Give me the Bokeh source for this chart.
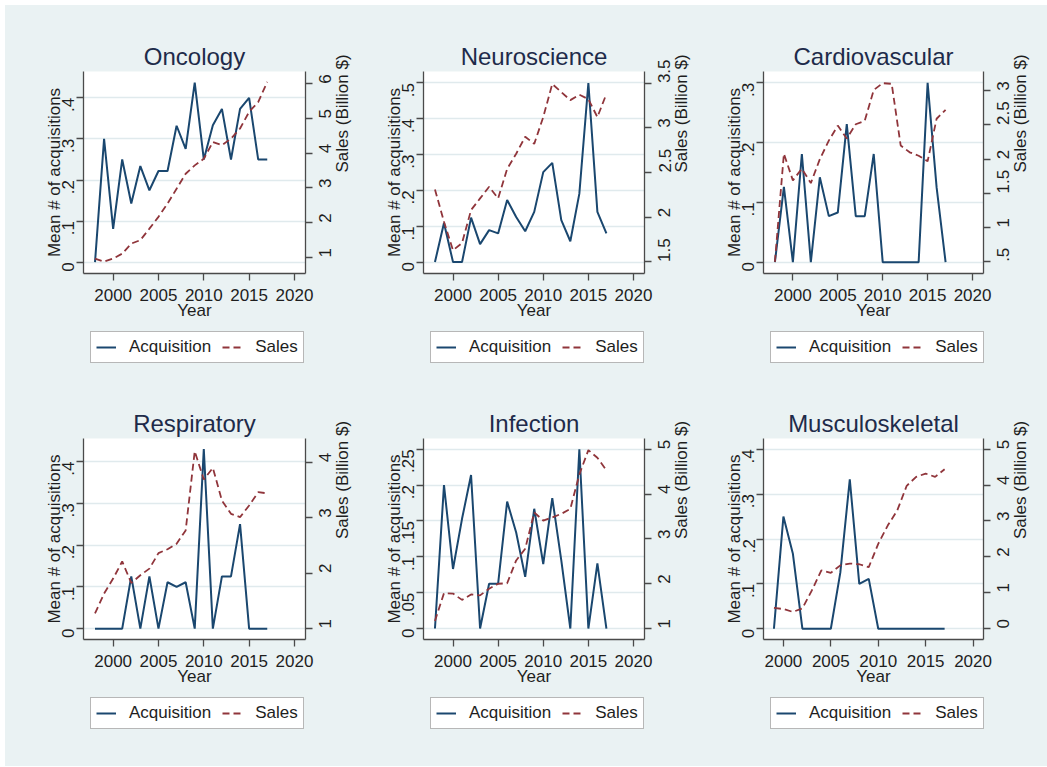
import math
from bokeh.plotting import figure
from bokeh.models import (Range1d, LinearAxis, FixedTicker, Legend, LegendItem,
                          CustomJSTickFormatter)
from bokeh.layouts import gridplot
from bokeh.embed import file_html
from bokeh.resources import INLINE

# ---------------- data ----------------
years = [1998, 1999, 2000, 2001, 2002, 2003, 2004, 2005, 2006, 2007,
         2008, 2009, 2010, 2011, 2012, 2013, 2014, 2015, 2016, 2017]
years_musc = [1999, 2000, 2001, 2002, 2003, 2004, 2005, 2006, 2007,
              2008, 2009, 2010, 2011, 2012, 2013, 2014, 2015, 2016, 2017]
x_ticks = [2000, 2005, 2010, 2015, 2020]

onc_acq = [0, 0.30, 0.081, 0.25, 0.143, 0.234, 0.175, 0.222, 0.222, 0.332,
           0.276, 0.437, 0.25, 0.333, 0.373, 0.25, 0.373, 0.40, 0.25, 0.25]
onc_sales = [0.97, 0.88, 0.97, 1.11, 1.40, 1.50, 1.83, 2.17, 2.55, 2.98,
             3.41, 3.65, 3.84, 4.32, 4.23, 4.42, 4.71, 5.19, 5.47, 6.05]

neu_acq = [0, 0.109, 0, 0, 0.124, 0.05, 0.089, 0.08, 0.173, 0.126,
           0.086, 0.14, 0.251, 0.277, 0.117, 0.058, 0.191, 0.5, 0.14, 0.08]
neu_sales = [2.31, 1.95, 1.63, 1.71, 2.08, 2.21, 2.34, 2.21, 2.54, 2.71,
             2.90, 2.82, 3.12, 3.49, 3.40, 3.31, 3.37, 3.32, 3.12, 3.38]

car_acq = [0, 0.126, 0, 0.181, 0, 0.142, 0.077, 0.083, 0.231, 0.077,
           0.077, 0.181, 0, 0, 0, 0, 0, 0.3, 0.125, 0]
car_sales = [0.5, 2.08, 1.69, 1.86, 1.65, 2.0, 2.27, 2.49, 2.30, 2.51,
             2.56, 3.01, 3.11, 3.10, 2.20, 2.10, 2.05, 1.97, 2.59, 2.72]

res_acq = [0, 0, 0, 0, 0.125, 0, 0.125, 0, 0.111, 0.1,
           0.111, 0, 0.43, 0, 0.125, 0.125, 0.25, 0, 0, 0]
res_sales = [1.27, 1.63, 1.90, 2.21, 1.82, 1.96, 2.08, 2.36, 2.43, 2.53,
             2.77, 4.20, 3.69, 3.90, 3.31, 3.07, 3.01, 3.22, 3.46, 3.44]

inf_acq = [0, 0.2, 0.083, 0.153, 0.214, 0, 0.0625, 0.0625, 0.177, 0.134,
           0.072, 0.167, 0.09, 0.182, 0.095, 0, 0.25, 0, 0.091, 0]
inf_sales = [1.17, 1.79, 1.78, 1.64, 1.76, 1.74, 1.89, 2.0, 2.01, 2.52,
             2.78, 3.59, 3.41, 3.48, 3.56, 3.67, 4.44, 4.98, 4.81, 4.53]

mus_acq = [0, 0.25, 0.167, 0, 0, 0, 0, 0.125, 0.333,
           0.1, 0.111, 0, 0, 0, 0, 0, 0, 0, 0]
mus_sales = [0.57, 0.54, 0.46, 0.56, 1.06, 1.62, 1.55, 1.76, 1.81,
             1.79, 1.71, 2.36, 2.87, 3.29, 3.98, 4.23, 4.32, 4.23, 4.44]

titles = ["Oncology", "Neuroscience", "Cardiovascular",
          "Respiratory", "Infection", "Musculoskeletal"]
left_ticks = [[0, 0.1, 0.2, 0.3, 0.4], [0, 0.1, 0.2, 0.3, 0.4, 0.5],
              [0, 0.1, 0.2, 0.3], [0, 0.1, 0.2, 0.3, 0.4],
              [0, 0.05, 0.1, 0.15, 0.2, 0.25], [0, 0.1, 0.2, 0.3, 0.4]]
right_ticks = [[1, 2, 3, 4, 5, 6], [1.5, 2, 2.5, 3, 3.5],
               [0.5, 1, 1.5, 2, 2.5, 3], [1, 2, 3, 4],
               [1, 2, 3, 4, 5], [0, 1, 2, 3, 4, 5]]
legend_labels = ["Acquisition", "Sales"]

# ---------------- styling / layout ----------------
BG = "#eaf2f3"
GRID = "#e0eaed"
NAVY = "#1a476f"
MAROON = "#90353b"
FONT = "Liberation Sans"
TXT = "#1e1e1e"
TITLE_C = "#1e2b4a"
AX = "#4a4a4a"
DASH = "7 4"

xs_list = [years, years, years, years, years, years_musc]
acq_list = [onc_acq, neu_acq, car_acq, res_acq, inf_acq, mus_acq]
sales_list = [onc_sales, neu_sales, car_sales, res_sales, inf_sales, mus_sales]
x_ranges = [(1996.73, 2021.22)] * 5 + [(1997.9, 2021.1)]
left_ranges = [(-0.0275, 0.464), (-0.032, 0.532), (-0.019, 0.319),
               (-0.026, 0.455), (-0.0153, 0.265), (-0.024, 0.424)]
right_ranges = [(0.54, 6.35), (1.37, 3.63), (0.33, 3.28),
                (0.80, 4.43), (0.756, 5.24), (-0.31, 5.30)]

col_left = [78, 54, 55]
col_right = [64, 64, 64]
frame_w = [222, 221, 220]
row_top = [66, 53]
row_bottom = [52, 52]
frame_h = [202, 201]
legend_fig_h = [60, 75]

fmt_code = """
let s = String(Math.round(tick * 100) / 100);
if (s.startsWith('0.')) s = s.slice(1);
return s;
"""


def style_axis(ax):
    ax.axis_line_color = AX
    ax.axis_line_width = 1.3
    ax.major_tick_line_color = AX
    ax.major_tick_line_width = 1.3
    ax.major_tick_out = 7
    ax.major_tick_in = 0
    ax.minor_tick_line_color = None
    ax.major_label_text_font = FONT
    ax.major_label_text_font_size = "17px"
    ax.major_label_text_color = TXT
    ax.axis_label_text_font = FONT
    ax.axis_label_text_font_size = "17px"
    ax.axis_label_text_font_style = "normal"
    ax.axis_label_text_color = TXT


figs = []
legs = []
for i in range(6):
    r, c = divmod(i, 3)
    p = figure(frame_width=frame_w[c], frame_height=frame_h[r],
               min_border_left=col_left[c], min_border_right=col_right[c],
               min_border_top=row_top[r], min_border_bottom=row_bottom[r],
               x_range=Range1d(*x_ranges[i]), y_range=Range1d(*left_ranges[i]),
               output_backend="svg", toolbar_location=None,
               background_fill_color="white", border_fill_color=BG,
               outline_line_color=None)
    p.extra_y_ranges = {"r": Range1d(*right_ranges[i])}

    p.title.text = titles[i]
    p.title.align = "center"
    p.title.text_font = FONT
    p.title.text_font_size = "24px"
    p.title.text_font_style = "normal"
    p.title.text_color = TITLE_C
    p.title.standoff = 4

    p.xgrid.visible = False
    p.ygrid.ticker = FixedTicker(ticks=left_ticks[i])
    p.ygrid.grid_line_color = GRID
    p.ygrid.grid_line_width = 1.6

    xa = p.xaxis[0]
    xa.ticker = FixedTicker(ticks=x_ticks)
    xa.axis_label = "Year"
    xa.axis_label_standoff = -3
    xa.major_label_standoff = 8
    style_axis(xa)

    ya = p.yaxis[0]
    ya.ticker = FixedTicker(ticks=left_ticks[i])
    ya.formatter = CustomJSTickFormatter(code=fmt_code)
    ya.major_label_orientation = math.pi / 2
    ya.axis_label = "Mean # of acquisitions"
    ya.axis_label_standoff = -10
    ya.major_label_standoff = 8
    style_axis(ya)

    ra = LinearAxis(y_range_name="r")
    ra.ticker = FixedTicker(ticks=right_ticks[i])
    ra.formatter = CustomJSTickFormatter(code=fmt_code)
    ra.major_label_orientation = math.pi / 2
    ra.major_label_standoff = 13
    ra.axis_label = "Sales (Billion $)"
    ra.axis_label_standoff = 2
    ra.axis_label_orientation = math.pi / 2
    style_axis(ra)
    p.add_layout(ra, "right")

    p.line(xs_list[i], acq_list[i], line_color=NAVY, line_width=2)
    p.line(xs_list[i], sales_list[i], y_range_name="r",
           line_color=MAROON, line_width=1.8, line_dash=DASH)
    figs.append(p)

    # legend strip below each panel
    W = col_left[c] + frame_w[c] + col_right[c]
    H = legend_fig_h[r]
    lf = figure(frame_width=W, frame_height=H, min_border=0,
                x_range=Range1d(0, 1), y_range=Range1d(0, 1),
                x_axis_location=None, y_axis_location=None,
                output_backend="svg", toolbar_location=None,
                background_fill_color=BG, border_fill_color=BG,
                outline_line_color=None)
    lf.grid.visible = False
    # legend keys only: these lines lie outside the visible range
    d1 = lf.line([-5, -4], [-5, -4], line_color=NAVY, line_width=2)
    d2 = lf.line([-5, -4], [-5, -4], line_color=MAROON, line_width=1.8,
                 line_dash=DASH)
    leg = Legend(items=[LegendItem(label=legend_labels[0], renderers=[d1]),
                        LegendItem(label=legend_labels[1], renderers=[d2])],
                 orientation="horizontal", location=(col_left[c] + 7, H - 38),
                 padding=5, margin=0, spacing=11, label_standoff=13,
                 glyph_width=20, glyph_height=20, label_height=20,
                 label_text_font=FONT, label_text_font_size="17px",
                 label_text_color=TXT,
                 border_line_color="#707070", border_line_width=1.3,
                 background_fill_color="white", background_fill_alpha=1.0)
    lf.add_layout(leg)
    legs.append(lf)

grid = gridplot([figs[0:3], legs[0:3], figs[3:6], legs[3:6]],
                toolbar_location=None)
grid.styles = {"background-color": BG, "margin-left": "5px", "margin-top": "5px"}

open("out.html", "w").write(file_html(grid, INLINE))
